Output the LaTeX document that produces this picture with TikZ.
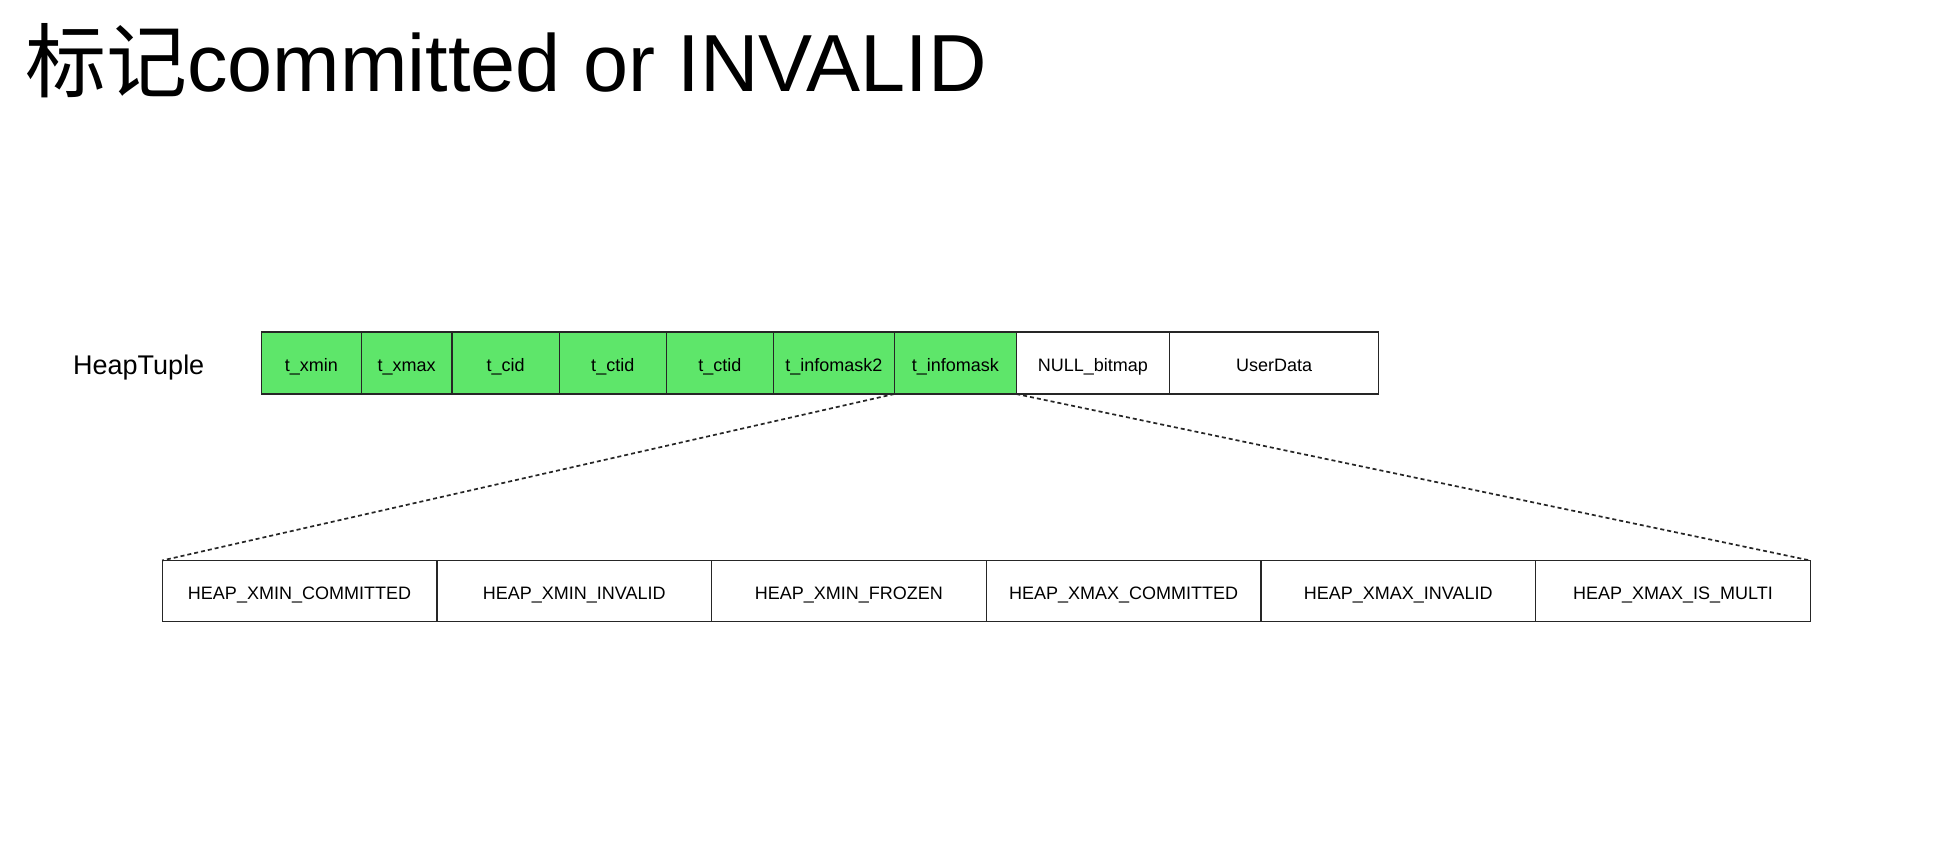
\documentclass[tikz,border=0pt]{standalone}
\usepackage{fontspec}
\setmainfont{Liberation Sans}
\newfontfamily\cjk{Noto Sans CJK SC}
\definecolor{cellgreen}{HTML}{5EE66A}
\begin{document}
\begin{tikzpicture}[x=1pt,y=-1pt,
  cell/.style={draw=black!85,line width=1.3pt,inner sep=0pt,outer sep=0pt,
    text height=17pt,text depth=0pt,
    font=\fontsize{18}{20}\selectfont},
  topcell/.style={cell,minimum height=62pt},
  botcell/.style={cell,minimum height=61pt,minimum width=274.7pt},
  gcell/.style={topcell,fill=cellgreen},
  wcell/.style={topcell,fill=white},
  zoomline/.style={line width=1.7pt,dash pattern=on 4pt off 3pt,black!85}]
\useasboundingbox[fill=white] (0,0) rectangle (1953,853);
\node[anchor=base west,inner sep=0pt,font=\fontsize{81}{96}\selectfont] (title) at (25,92) {{\cjk 标记}committed or INVALID};
\node[anchor=base west,inner sep=0pt,font=\fontsize{27}{30}\selectfont] (ht) at (73,374) {HeapTuple};
\node[gcell,minimum width=99.6pt] (c1) at (311.4,363) {t\_xmin};
\node[gcell,minimum width=90.9pt] (c2) at (406.65,363) {t\_xmax};
\node[gcell,minimum width=107.1pt] (c3) at (505.65,363) {t\_cid};
\node[gcell,minimum width=107.1pt] (c4) at (612.75,363) {t\_ctid};
\node[gcell,minimum width=107.2pt] (c5) at (719.9,363) {t\_ctid};
\node[gcell,minimum width=120.8pt] (c6) at (833.9,363) {t\_infomask2};
\node[gcell,minimum width=122pt] (c7) at (955.3,363) {t\_infomask};
\node[wcell,minimum width=153.2pt] (c8) at (1092.9,363) {NULL\_bitmap};
\node[wcell,minimum width=209.3pt] (c9) at (1274.15,363) {UserData};
\node[botcell] (b1) at (299.5,591) {HEAP\_XMIN\_COMMITTED};
\node[botcell] (b2) at (574.2,591) {HEAP\_XMIN\_INVALID};
\node[botcell] (b3) at (848.9,591) {HEAP\_XMIN\_FROZEN};
\node[botcell] (b4) at (1123.6,591) {HEAP\_XMAX\_COMMITTED};
\node[botcell] (b5) at (1398.3,591) {HEAP\_XMAX\_INVALID};
\node[botcell] (b6) at (1673,591) {HEAP\_XMAX\_IS\_MULTI};
\draw[zoomline] (c7.south west) -- (b1.north west);
\draw[zoomline] (c7.south east) -- (b6.north east);
\end{tikzpicture}
\end{document}
